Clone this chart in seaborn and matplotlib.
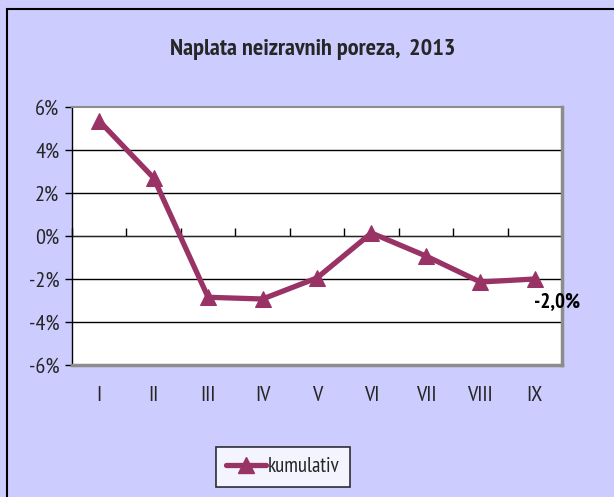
import matplotlib
matplotlib.use("Agg")
import matplotlib.pyplot as plt
from matplotlib.patches import Rectangle
from matplotlib.lines import Line2D
import seaborn as sns
import pandas as pd
import numpy as np

months = ["I", "II", "III", "IV", "V", "VI", "VII", "VIII", "IX"]
kumulativ = [5.35, 2.7, -2.85, -2.93, -1.95, 0.14, -0.93, -2.14, -2.0]
yticks = [-6, -4, -2, 0, 2, 4, 6]
title = "Naplata neizravnih poreza,  2013"
series_name = "kumulativ"
last_label = "-2,0%"

sns.set_style("white")
plt.rcParams["font.family"] = ["PT Sans Narrow", "Liberation Sans", "DejaVu Sans"]

W, H = 614, 497
fig = plt.figure(figsize=(W / 100, H / 100), dpi=100)
fig.patch.set_facecolor("#CCCCFF")
fig.patches.append(Rectangle((7 / W, -0.1), 1.2, 1 - 9 / H + 0.1, transform=fig.transFigure,
                             fill=False, edgecolor="black", lw=1.5))

ax = fig.add_axes([72 / W, 1 - 365 / H, (562 - 72) / W, (365 - 107) / H])
df = pd.DataFrame({"x": np.arange(len(months)), "y": kumulativ, "s": series_name})
color = "#993366"
sns.lineplot(data=df, x="x", y="y", hue="s", palette=[color], marker="^",
             markersize=11, markeredgecolor=color, linewidth=3.8, ax=ax, legend=False)

ax.set_xlim(-0.5, len(months) - 0.5)
ax.set_ylim(-6, 6)
ax.set_yticks(yticks)
ax.set_yticklabels([f"{v}%" for v in yticks], fontsize=16)
ax.set_xticks(np.arange(len(months)))
ax.set_xticklabels(months, fontsize=16)
ax.tick_params(axis="x", length=0, pad=15)
ax.tick_params(axis="y", length=5, width=1, color="black", left=True, pad=4)
for v in yticks[1:-1]:
    ax.axhline(v, color="black", lw=1, zorder=0)
ax.set_xlabel("")
ax.set_ylabel("")
ax.set_facecolor("white")
for s in ["top", "right", "bottom"]:
    ax.spines[s].set_color("#8c8c8c")
    ax.spines[s].set_linewidth(2.5)
ax.spines["top"].set_linewidth(1.5)
ax.spines["left"].set_color("black")
ax.spines["left"].set_linewidth(1)

sec = ax.secondary_xaxis(0.5)
sec.set_xticks(np.arange(len(months) + 1) - 0.5)
sec.set_xticklabels([""] * (len(months) + 1))
sec.tick_params(length=6, width=1, direction="out", color="black")
sec.spines["bottom"].set_color("black")
sec.spines["bottom"].set_linewidth(1)

ax.text(len(months) - 1 - 0.02, -3.05, last_label, fontsize=15, fontweight="bold",
        ha="left", va="center", color="black")

fig.text(313 / W, 1 - 49 / H, title, fontsize=17.5, fontweight="bold", ha="center", va="center")

h = Line2D([], [], color=color, lw=3.8, marker="^", markersize=11)
leg = fig.legend([h], [series_name], loc="center", bbox_to_anchor=(283 / W, 1 - 467 / H),
                 fontsize=15, frameon=True, fancybox=False, edgecolor="black",
                 handlelength=1.9, handletextpad=0.1, borderpad=0.5)
leg.get_frame().set_linewidth(1.2)

fig.savefig("out.png", dpi=100, facecolor=fig.get_facecolor())
